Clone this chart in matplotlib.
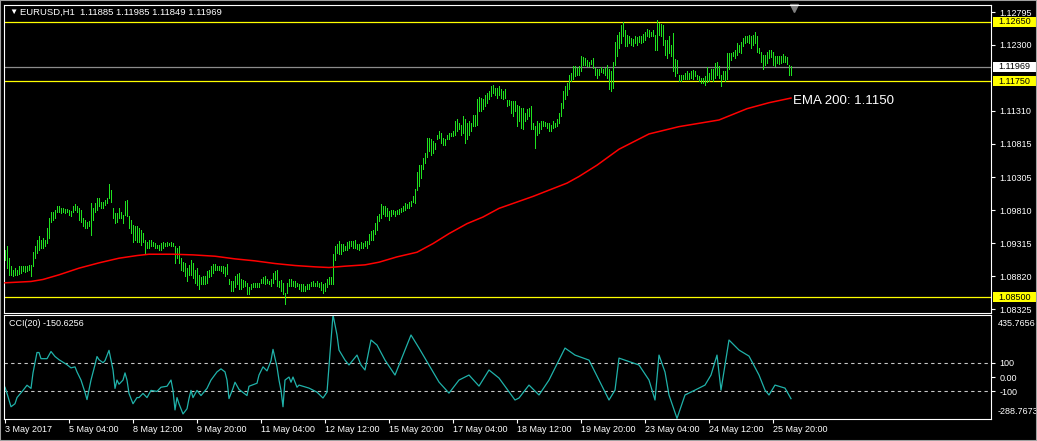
import matplotlib
matplotlib.use("Agg")
import matplotlib.pyplot as plt  # noqa: E402
from matplotlib.patches import Rectangle  # noqa: E402
from matplotlib.transforms import blended_transform_factory  # noqa: E402

plt.rcParams["font.family"] = ["Liberation Sans", "DejaVu Sans"]

# --- data (EURUSD H1, one bar per hour) ---
SYMBOL = "EURUSD,H1"
LAST_OHLC = ["1.11885", "1.11985", "1.11849", "1.11969"]

HIGH = [
    1.0922, 1.0928, 1.0909, 1.0897, 1.0892, 1.0894, 1.0892, 1.0897, 1.0897, 1.0897, 1.0897, 1.0898, 1.0899, 1.0899,
    1.0919, 1.0927, 1.0937, 1.0942, 1.0937, 1.0939, 1.0937, 1.0954, 1.0969, 1.0979, 1.0979, 1.0982, 1.0987, 1.0988,
    1.0984, 1.0984, 1.0983, 1.0983, 1.0982, 1.0980, 1.0987, 1.0990, 1.0987, 1.0984, 1.0982, 1.0969, 1.0967, 1.0964,
    1.0965, 1.0992, 1.0984, 1.0992, 1.0999, 1.0999, 1.0993, 1.0993, 1.0997, 1.0999, 1.1020, 1.1012, 1.0984, 1.0977,
    1.0977, 1.0984, 1.0979, 1.0974, 1.0995, 1.0997, 1.0972, 1.0967, 1.0959, 1.0957, 1.0957, 1.0954, 1.0952, 1.0947,
    1.0937, 1.0934, 1.0937, 1.0937, 1.0934, 1.0932, 1.0929, 1.0929, 1.0932, 1.0934, 1.0932, 1.0934, 1.0932, 1.0934,
    1.0932, 1.0927, 1.0924, 1.0927, 1.0909, 1.0904, 1.0902, 1.0894, 1.0899, 1.0907, 1.0902, 1.0892, 1.0894, 1.0884,
    1.0880, 1.0882, 1.0882, 1.0890, 1.0892, 1.0897, 1.0900, 1.0900, 1.0898, 1.0898, 1.0898, 1.0897, 1.0896, 1.0900,
    1.0877, 1.0875, 1.0875, 1.0882, 1.0885, 1.0887, 1.0877, 1.0876, 1.0875, 1.0872, 1.0865, 1.0870, 1.0872, 1.0872,
    1.0872, 1.0872, 1.0878, 1.0880, 1.0882, 1.0878, 1.0875, 1.0877, 1.0887, 1.0890, 1.0892, 1.0875, 1.0876, 1.0872,
    1.0857, 1.0872, 1.0877, 1.0877, 1.0875, 1.0875, 1.0872, 1.0870, 1.0870, 1.0870, 1.0867, 1.0870, 1.0870, 1.0873,
    1.0875, 1.0872, 1.0875, 1.0872, 1.0873, 1.0870, 1.0872, 1.0877, 1.0880, 1.0880, 1.0915, 1.0927, 1.0930, 1.0935,
    1.0930, 1.0930, 1.0927, 1.0933, 1.0935, 1.0935, 1.0935, 1.0937, 1.0931, 1.0930, 1.0933, 1.0932, 1.0935, 1.0935,
    1.0945, 1.0950, 1.0952, 1.0962, 1.0972, 1.0975, 1.0990, 1.0988, 1.0987, 1.0985, 1.0980, 1.0982, 1.0982, 1.0980,
    1.0981, 1.0983,
    1.0985, 1.0988, 1.0992, 1.0990, 1.0993, 1.0995, 1.1003, 1.1013, 1.1038, 1.1050, 1.1050, 1.1060, 1.1068, 1.1090,
    1.1090, 1.1088, 1.1085, 1.1083, 1.1095, 1.1100, 1.1098, 1.1090, 1.1088, 1.1095, 1.1098, 1.1098, 1.1100, 1.1115,
    1.1118, 1.1113, 1.1110, 1.1123, 1.1118, 1.1113, 1.1115, 1.1113, 1.1125, 1.1125, 1.1148, 1.1152, 1.1150, 1.1148,
    1.1155, 1.1158, 1.1160, 1.1168, 1.1170, 1.1165, 1.1165, 1.1168, 1.1163, 1.1160, 1.1163, 1.1147, 1.1147, 1.1145,
    1.1145, 1.1145, 1.1140, 1.1138, 1.1135, 1.1135, 1.1128, 1.1133, 1.1135, 1.1138, 1.1113, 1.1108, 1.1115, 1.1113,
    1.1115, 1.1115, 1.1114, 1.1112, 1.1113, 1.1110, 1.1115, 1.1113, 1.1118, 1.1127, 1.1143, 1.1160, 1.1168, 1.1173,
    1.1185, 1.1188, 1.1198, 1.1198, 1.1195, 1.1198, 1.1213, 1.1212, 1.1210, 1.1208, 1.1204, 1.1208, 1.1210, 1.1195,
    1.1193,
    1.1194, 1.1197, 1.1194, 1.1195, 1.1200, 1.1193, 1.1190, 1.1205, 1.1235, 1.1245, 1.1250, 1.1260, 1.1264, 1.1252,
    1.1245, 1.1244, 1.1240, 1.1239, 1.1243, 1.1242, 1.1243, 1.1244, 1.1247, 1.1249, 1.1254, 1.1253, 1.1250, 1.1253,
    1.1245, 1.1268, 1.1263, 1.1262, 1.1260, 1.1238, 1.1237, 1.1243, 1.1230, 1.1248, 1.1209, 1.1208, 1.1185, 1.1185,
    1.1185, 1.1187, 1.1190, 1.1188, 1.1190, 1.1192, 1.1190, 1.1185, 1.1183, 1.1180, 1.1180, 1.1183, 1.1197, 1.1188,
    1.1193, 1.1193, 1.1203, 1.1205, 1.1198, 1.1185, 1.1190, 1.1190, 1.1218, 1.1218, 1.1218, 1.1220, 1.1223, 1.1233,
    1.1230, 1.1235, 1.1240, 1.1244, 1.1244, 1.1245, 1.1244, 1.1245, 1.1250, 1.1243, 1.1225, 1.1220, 1.1215, 1.1215,
    1.1220, 1.1223, 1.1223, 1.1220, 1.1213, 1.1214, 1.1213, 1.1213, 1.1217, 1.1213, 1.1212, 1.1200, 1.1199,
]
LOW = [
    1.0907, 1.0894, 1.0884, 1.0884, 1.0882, 1.0884, 1.0884, 1.0885, 1.0887, 1.0889, 1.0888, 1.0889, 1.0892, 1.0882,
    1.0897, 1.0909, 1.0917, 1.0922, 1.0924, 1.0924, 1.0927, 1.0932, 1.0939, 1.0964, 1.0967, 1.0969, 1.0979, 1.0979,
    1.0977, 1.0979, 1.0977, 1.0978, 1.0974, 1.0972, 1.0979, 1.0982, 1.0979, 1.0967, 1.0964, 1.0957, 1.0954, 1.0954,
    1.0957, 1.0944, 1.0967, 1.0979, 1.0982, 1.0987, 1.0984, 1.0984, 1.0989, 1.0992, 1.0999, 1.0994, 1.0969, 1.0962,
    1.0964, 1.0969, 1.0969, 1.0962, 1.0974, 1.0972, 1.0954, 1.0947, 1.0934, 1.0937, 1.0934, 1.0934, 1.0929, 1.0934,
    1.0917, 1.0924, 1.0924, 1.0927, 1.0927, 1.0924, 1.0924, 1.0922, 1.0922, 1.0924, 1.0927, 1.0927, 1.0929, 1.0927,
    1.0927, 1.0902, 1.0909, 1.0902, 1.0892, 1.0889, 1.0882, 1.0874, 1.0884, 1.0884, 1.0879, 1.0872, 1.0869, 1.0862,
    1.0870, 1.0870, 1.0870, 1.0872, 1.0880, 1.0882, 1.0887, 1.0892, 1.0891, 1.0891, 1.0890, 1.0887, 1.0882, 1.0885,
    1.0870, 1.0860, 1.0860, 1.0865, 1.0870, 1.0862, 1.0862, 1.0865, 1.0867, 1.0855, 1.0855, 1.0862, 1.0865, 1.0865,
    1.0865, 1.0866, 1.0872, 1.0871, 1.0870, 1.0872, 1.0870, 1.0867, 1.0871, 1.0877, 1.0867, 1.0865, 1.0860, 1.0855,
    1.0840, 1.0857, 1.0867, 1.0867, 1.0867, 1.0865, 1.0867, 1.0862, 1.0860, 1.0860, 1.0860, 1.0862, 1.0862, 1.0867,
    1.0867, 1.0867, 1.0867, 1.0865, 1.0861, 1.0857, 1.0860, 1.0865, 1.0870, 1.0870, 1.0870, 1.0907, 1.0917, 1.0915,
    1.0915, 1.0920, 1.0921, 1.0922, 1.0925, 1.0927, 1.0925, 1.0925, 1.0923, 1.0922, 1.0925, 1.0925, 1.0927, 1.0925,
    1.0930, 1.0937, 1.0937, 1.0945, 1.0952, 1.0965, 1.0970, 1.0975, 1.0972, 1.0972, 1.0967, 1.0972, 1.0975, 1.0972,
    1.0975, 1.0976,
    1.0979, 1.0980, 1.0982, 1.0984, 1.0985, 1.0988, 1.0993, 1.0992, 1.1012, 1.1018, 1.1029, 1.1043, 1.1052, 1.1062,
    1.1070, 1.1065, 1.1068, 1.1073, 1.1088, 1.1090, 1.1083, 1.1079, 1.1079, 1.1088, 1.1088, 1.1093, 1.1093, 1.1095,
    1.1100, 1.1103, 1.1095, 1.1098, 1.1083, 1.1088, 1.1095, 1.1100, 1.1108, 1.1108, 1.1110, 1.1130, 1.1130, 1.1133,
    1.1138, 1.1143, 1.1148, 1.1153, 1.1158, 1.1155, 1.1150, 1.1155, 1.1150, 1.1148, 1.1150, 1.1138, 1.1140, 1.1128,
    1.1123, 1.1130, 1.1108, 1.1115, 1.1105, 1.1103, 1.1115, 1.1118, 1.1123, 1.1103, 1.1103, 1.1075, 1.1095, 1.1098,
    1.1103, 1.1108, 1.1108, 1.1105, 1.1100, 1.1100, 1.1105, 1.1107, 1.1108, 1.1113, 1.1123, 1.1135, 1.1148, 1.1155,
    1.1163, 1.1175, 1.1178, 1.1183, 1.1185, 1.1185, 1.1190, 1.1200, 1.1200, 1.1198, 1.1198, 1.1202, 1.1195, 1.1185,
    1.1180,
    1.1185, 1.1189, 1.1187, 1.1185, 1.1180, 1.1163, 1.1160, 1.1165, 1.1200, 1.1213, 1.1225, 1.1233, 1.1243, 1.1228,
    1.1228, 1.1233, 1.1230, 1.1228, 1.1233, 1.1230, 1.1235, 1.1233, 1.1235, 1.1238, 1.1244, 1.1242, 1.1243, 1.1243,
    1.1223, 1.1223, 1.1245, 1.1243, 1.1230, 1.1215, 1.1210, 1.1218, 1.1213, 1.1190, 1.1183, 1.1188, 1.1175, 1.1175,
    1.1178, 1.1178, 1.1178, 1.1178, 1.1180, 1.1178, 1.1183, 1.1178, 1.1175, 1.1173, 1.1172, 1.1170, 1.1174, 1.1175,
    1.1178, 1.1175, 1.1180, 1.1185, 1.1180, 1.1168, 1.1178, 1.1175, 1.1178, 1.1193, 1.1208, 1.1213, 1.1210, 1.1215,
    1.1220, 1.1218, 1.1228, 1.1233, 1.1235, 1.1233, 1.1225, 1.1230, 1.1233, 1.1220, 1.1218, 1.1205, 1.1193, 1.1200,
    1.1203, 1.1210, 1.1212, 1.1200, 1.1198, 1.1203, 1.1202, 1.1203, 1.1205, 1.1204, 1.1202, 1.1185, 1.1185,
]

# EMA 200, read at selected bars (bar index -> value)
EMA_BARS = [0, 13, 19, 27, 37, 47, 57, 66, 72, 84, 94, 105, 115, 125, 135, 145, 155, 162, 170, 180,
            187, 196, 206, 214, 222, 231, 239, 247, 264, 281, 287, 296, 307, 322, 337, 347, 357, 371, 382, 393]
EMA_VALUES = [1.0872, 1.0874, 1.0877, 1.0884, 1.0894, 1.0902, 1.0909, 1.0913, 1.0915, 1.0915,
              1.0914, 1.0912, 1.0908, 1.0905, 1.0901, 1.0898, 1.0896, 1.0895, 1.0897, 1.0899,
              1.0903, 1.0911, 1.0918, 1.0931, 1.0946, 1.0961, 1.0971, 1.0984, 1.1002, 1.1022,
              1.1032, 1.1049, 1.1073, 1.1096, 1.1107, 1.1112, 1.1117, 1.1134, 1.1143, 1.1150]
EMA_LABEL = "EMA 200: 1.1150"

# CCI(20), read at selected bars
CCI_BARS = [0, 1, 3, 5, 6, 9, 11, 13, 14, 16, 17, 18, 21, 23, 25, 27, 31, 33, 35, 36,
            38, 40, 41, 43, 45, 46, 47, 49, 50, 52, 54, 55, 56, 57, 59, 60, 61, 62, 64, 66,
            67, 69, 71, 73, 76, 78, 81, 83, 84, 85, 86, 87, 89, 91, 92, 93, 94, 96, 98, 101,
            103, 106, 108, 110, 111, 112, 114, 115, 117, 121, 122, 126, 127, 129, 131, 133, 134, 136, 137, 138,
            139, 140, 142, 143, 144, 146, 147, 152, 156, 159, 161, 164, 166, 167, 170, 172, 176, 178, 180, 183,
            186, 190, 195, 200, 203, 207, 212, 217, 222, 227, 232, 237, 242, 247, 255, 257, 262, 267, 272, 280,
            285, 292, 297, 302, 305, 307, 317, 322, 325, 327, 330, 332, 336, 340, 345, 350, 353, 356, 358, 362,
            367, 372, 377, 380, 382, 385, 390, 393]
CCI_VALUES = [-71, -114, -207, -186, -143, -93, -57, -79, 29, 171, 171, 128, 128, 178, 143, 121, 86, 64, 71, 36,
              -21, -107, -157, -21, 86, 143, 121, 100, 114, 186, 50, -79, -21, -50, -21, 29, -21, -114, -186, -143,
              -143, -114, -143, -93, -100, -71, -64, -21, -93, -229, -143, -186, -257, -221, -150, -93, -143, -93, -129, -79,
              -21, 36, 57, 36, -21, -150, -79, -36, -86, -129, -64, -43, 14, 71, 43, 114, 193, 71, -21, -93,
              -207, -21, 0, -36, 0, -71, -56, -77, -105, -146, -105, 435, 293, 188, 118, 84, 153, 84, 49, 258,
              223, 118, 14, 188, 293, 202, 84, -35, -112, -21, 14, -63, 49, -7, -160, -146, -56, -125, -21, 202,
              153, 118, -21, -160, -91, 132, 84, -21, -160, 153, 35, -125, -288, -125, -91, -56, 14, 153, -91, 258,
              188, 146, 14, -91, -125, -56, -77, -150.6256]
CCI_LABEL = "CCI(20) -150.6256"
CCI_MAX, CCI_MIN = 435.7656, -288.7673
CCI_LEVELS = [100, -100]

PRICE_TICKS = [1.12795, 1.12300, 1.11310, 1.10815, 1.10305, 1.09810, 1.09315, 1.08820, 1.08325]
LEVELS = [1.12650, 1.11750, 1.08500]
BID = 1.11969

TIME_LABELS = ["3 May 2017", "5 May 04:00", "8 May 12:00", "9 May 20:00", "11 May 04:00",
               "12 May 12:00", "15 May 20:00", "17 May 04:00", "18 May 12:00", "19 May 20:00",
               "23 May 04:00", "24 May 12:00", "25 May 20:00"]
BARS_PER_LABEL = 32

assert len(HIGH) == len(LOW), (len(HIGH), len(LOW))
assert len(EMA_BARS) == len(EMA_VALUES)
assert len(CCI_BARS) == len(CCI_VALUES), (len(CCI_BARS), len(CCI_VALUES))

BAR_COLOR = "#1fe21f"
CCI_COLOR = "#20b2aa"
TXT = dict(color="white", fontsize=6.5)

W, H = 1037, 441
fig = plt.figure(figsize=(W / 100, H / 100), dpi=100, facecolor="black")


def panel(left, top, right, bottom):
    return fig.add_axes([left / W, 1 - bottom / H, (right - left) / W, (bottom - top) / H],
                        facecolor="black")


ax = panel(4, 4.5, 991, 312.5)
cax = panel(4, 314.5, 991, 418.5)
xmax = (991 - 4) / 2 - 0.5   # 2 px per bar
for a in (ax, cax):
    a.set_xlim(-0.5, xmax)
    for s in a.spines.values():
        s.set_color("white")
        s.set_linewidth(0.8)

# price panel
ax.set_ylim(1.08273, 1.12908)
for lv in LEVELS:
    ax.axhline(lv, color="#ffff00", lw=0.9, zorder=1)
ax.axhline(BID, color="#8c8c8c", lw=0.9, zorder=1)
ax.vlines(range(len(HIGH)), LOW, HIGH, colors=BAR_COLOR, linewidth=0.6,
          antialiased=False, zorder=2)
ax.plot(EMA_BARS, EMA_VALUES, color="#ff0000", lw=1.1, zorder=3)
ax.annotate(EMA_LABEL, (EMA_BARS[-1] + 1, EMA_VALUES[-1]), xytext=(0, -2),
            textcoords="offset points", color="white", fontsize=9.5, va="center")

ax.set_xticks([])
ax.yaxis.tick_right()
ax.set_yticks(PRICE_TICKS, [f"{v:.5f}" for v in PRICE_TICKS])
ax.tick_params(axis="y", colors="white", length=3, width=0.8, labelsize=6.5, pad=3)

ytr = ax.get_yaxis_transform()
box_h = 10 * (1.12908 - 1.08273) / 308
for lv, fc in [(v, "#ffff00") for v in LEVELS] + [(BID, "white")]:
    ax.add_patch(Rectangle((1 + 2 / 987, lv - box_h / 2), 44 / 987, box_h, transform=ytr,
                           facecolor=fc, edgecolor="none", clip_on=False, zorder=5))
    ax.text(1 + 7 / 987, lv, f"{lv:.5f}", transform=ytr, va="center", ha="left",
            color="black", fontsize=6.5, zorder=6, clip_on=False)

# chart shift marker
mtr = blended_transform_factory(ax.transData, ax.transAxes)
ax.plot([len(HIGH) + 0.5], [1 - 3 / 308], marker="v", ms=5.5, color="#808080",
        transform=mtr, clip_on=False)

# CCI panel
cax.set_ylim(CCI_MIN, CCI_MAX)
for lv in CCI_LEVELS:
    cax.axhline(lv, color="#c8c8c8", lw=0.8, ls=(0, (3, 3)))
cax.plot(CCI_BARS, CCI_VALUES, color=CCI_COLOR, lw=0.9)
cax.yaxis.tick_right()
cax.set_yticks([100, 0, -100], ["100", "0.00", "-100"])
cax.tick_params(axis="y", colors="white", length=3, width=0.8, labelsize=6.5, pad=3)
cax.text(1 + 7 / 987, 1 - 8.5 / 104, f"{CCI_MAX:.4f}", transform=cax.transAxes,
         va="center", ha="left", clip_on=False, **TXT)
cax.text(1 + 7 / 987, 7.5 / 104, f"{CCI_MIN:.4f}", transform=cax.transAxes,
         va="center", ha="left", clip_on=False, **TXT)

ticks = [i * BARS_PER_LABEL for i in range(len(TIME_LABELS))]
cax.set_xticks(ticks, TIME_LABELS)
cax.tick_params(axis="x", colors="white", length=3, width=0.8, labelsize=6.5, pad=2)
for lab in cax.get_xticklabels():
    lab.set_ha("left")

# header texts
fig.text(9 / W, 1 - 12 / H, "\u25bc", color="white", fontsize=6, va="center")
fig.text(20 / W, 1 - 12 / H, f"{SYMBOL}  " + " ".join(LAST_OHLC), va="center",
         color="white", fontsize=6.8)
fig.text(9 / W, 1 - 324 / H, CCI_LABEL, va="center", **TXT)

fig.add_artist(Rectangle((0, 0), 1, 1, transform=fig.transFigure, fill=False,
                         edgecolor="#a0a0a0", lw=1.5))

fig.savefig("out.png", dpi=100, facecolor="black")
